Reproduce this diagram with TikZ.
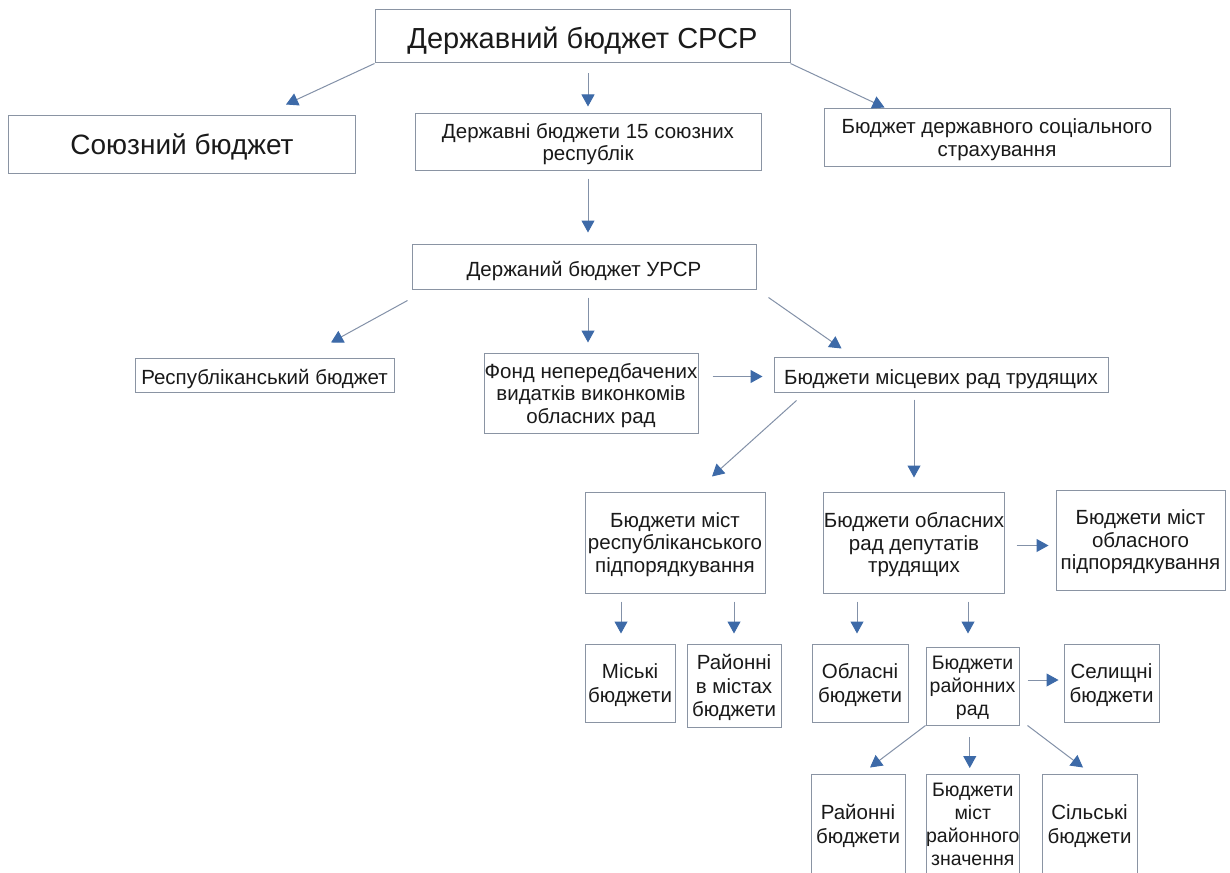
\documentclass[tikz,border=0pt]{standalone}
\usepackage{fontspec}
\setmainfont{Liberation Sans}
\usetikzlibrary{arrows.meta,calc}
\definecolor{boxc}{HTML}{8A94A3}
\definecolor{linec}{HTML}{8391A8}
\definecolor{headc}{HTML}{3D6AA8}
\definecolor{txtc}{HTML}{1A1A1A}
\tikzset{
  bx/.style={draw=boxc, line width=1pt, fill=white, align=center, inner sep=0pt,
    text=txtc, font=\fontsize{20.5}{22.5}\selectfont, text depth=0pt,
    execute at begin node={\rule{0pt}{19pt}}},
  bigtxt/.style={font=\fontsize{29}{34}\selectfont,
    execute at begin node={\rule{0pt}{25pt}}},
  midtxt/.style={font=\fontsize{28}{33}\selectfont},
  smalltxt/.style={font=\fontsize{20.5}{23.5}\selectfont},
  tinytxt/.style={font=\fontsize{19.5}{23}\selectfont},
  arr/.style={draw=linec, line width=1pt,
    -{Triangle[length=12pt,width=13pt,fill=headc,color=headc]}},
}
\begin{document}
\begin{tikzpicture}[x=1pt,y=-1pt]
\fill[white] (0,0) rectangle (1230,872);
\useasboundingbox (0,0) rectangle (1230,872);
\begin{scope}
\clip (0,0) rectangle (1230,872);
% level 0
\node[bx,bigtxt,minimum width=415pt,minimum height=53pt] (top) at (582.5,36.5) {Державний бюджет СРСР};
% level 1
\node[bx,midtxt,minimum width=347pt,minimum height=57pt] (sojuz) at (182,144.5) {Союзний бюджет};
\node[bx,minimum width=346pt,minimum height=56pt] (resp15) at (588,142) {Державні бюджети 15 союзних\\республік};
\node[bx,minimum width=346pt,minimum height=57pt] (social) at (997,137.5) {Бюджет державного соціального\\страхування};
% level 2
\node[bx,minimum width=344pt,minimum height=45pt] (ursr) at (584,266.5) {Держаний бюджет УРСР};
% level 3
\node[bx,minimum width=259pt,minimum height=34pt] (respb) at (264.5,375) {Республіканський бюджет};
\node[bx,minimum width=214pt,minimum height=80pt] (fond) at (591,393) {Фонд непередбачених\\видатків виконкомів\\обласних рад};
\node[bx,minimum width=334pt,minimum height=35pt] (local) at (941,374.5) {Бюджети місцевих рад трудящих};
% level 4
\node[bx,minimum width=180pt,minimum height=101pt] (cityrep) at (675,542.5) {Бюджети міст\\республіканського\\підпорядкування};
\node[bx,minimum width=180pt,minimum height=101pt] (obl) at (914,542.5) {Бюджети обласних\\рад депутатів\\трудящих};
\node[bx,minimum width=169pt,minimum height=100pt] (oblcity) at (1140.5,540) {Бюджети міст\\обласного\\підпорядкування};
% level 5
\node[bx,smalltxt,minimum width=90pt,minimum height=78pt] (misk) at (630,683) {Міські\\бюджети};
\node[bx,smalltxt,minimum width=94pt,minimum height=83pt] (rayc) at (734,685.5) {Районні\\в містах\\бюджети};
\node[bx,smalltxt,minimum width=96pt,minimum height=78pt] (oblb) at (860,683) {Обласні\\бюджети};
\node[bx,tinytxt,minimum width=93pt,minimum height=78pt] (rayr) at (972.5,686) {Бюджети\\районних\\рад};
\node[bx,smalltxt,minimum width=95pt,minimum height=78pt] (sel) at (1111.5,683) {Селищні\\бюджети};
% level 6
\node[bx,smalltxt,minimum width=94pt,minimum height=100pt] (rayb) at (858,824) {Районні\\бюджети};
\node[bx,tinytxt,minimum width=93pt,minimum height=100pt] (mrz) at (972.75,824.5) {Бюджети\\міст\\районного\\значення};
\node[bx,smalltxt,minimum width=95pt,minimum height=100pt] (sil) at (1089.5,824) {Сільські\\бюджети};
\end{scope}
% connectors
\draw[arr] (top.south west) -- ([xshift=-70pt,yshift=11pt]sojuz.north east);
\draw[arr] ($(resp15.north)+(0,-40)$) -- ($(resp15.north)+(0,-7)$);
\draw[arr] (top.south east) -- ($(social.north west)+(61,-1)$);
\draw[arr] ($(resp15.south)+(0,8)$) -- ($(resp15.south)+(0,62)$);
\draw[arr] ($(ursr.south west)+(-4,11)$) -- ($(respb.north)+(66.5,-15)$);
\draw[arr] ($(fond.north)+(-3,-55)$) -- ($(fond.north)+(-3,-10)$);
\draw[arr] ($(ursr.south east)+(12,8)$) -- ($(local.north west)+(68,-8)$);
\draw[arr] ($(fond.east |- local.west)+(14,2)$) -- ($(local.west)+(-11,2)$);
\draw[arr] ($(local.south west)+(23,8)$) -- ($(cityrep.north)+(37,-15)$);
\draw[arr] ($(obl.north)+(0,-92)$) -- ($(obl.north)+(0,-14)$);
\draw[arr] ($(obl.east)+(12,3)$) -- ($(oblcity.west |- obl.east)+(-7,3)$);
\draw[arr] ($(misk.north)+(-9,-42)$) -- ($(misk.north)+(-9,-10)$);
\draw[arr] ($(rayc.north)+(0,-42)$) -- ($(rayc.north)+(0,-10)$);
\draw[arr] ($(oblb.north)+(-3,-42)$) -- ($(oblb.north)+(-3,-10)$);
\draw[arr] ($(rayr.north)+(-4.5,-45)$) -- ($(rayr.north)+(-4.5,-13)$);
\draw[arr] ($(rayr.east)+(8,-6)$) -- ($(sel.west |- rayr.east)+(-5,-6)$);
\draw[arr] (rayr.south west) -- ($(rayb.north)+(12,-6)$);
\draw[arr] ($(mrz.north)+(-3,-37)$) -- ($(mrz.north)+(-3,-6)$);
\draw[arr] ($(rayr.south east)+(8,0)$) -- ($(sil.north)+(-6.5,-6)$);
\end{tikzpicture}
\end{document}
